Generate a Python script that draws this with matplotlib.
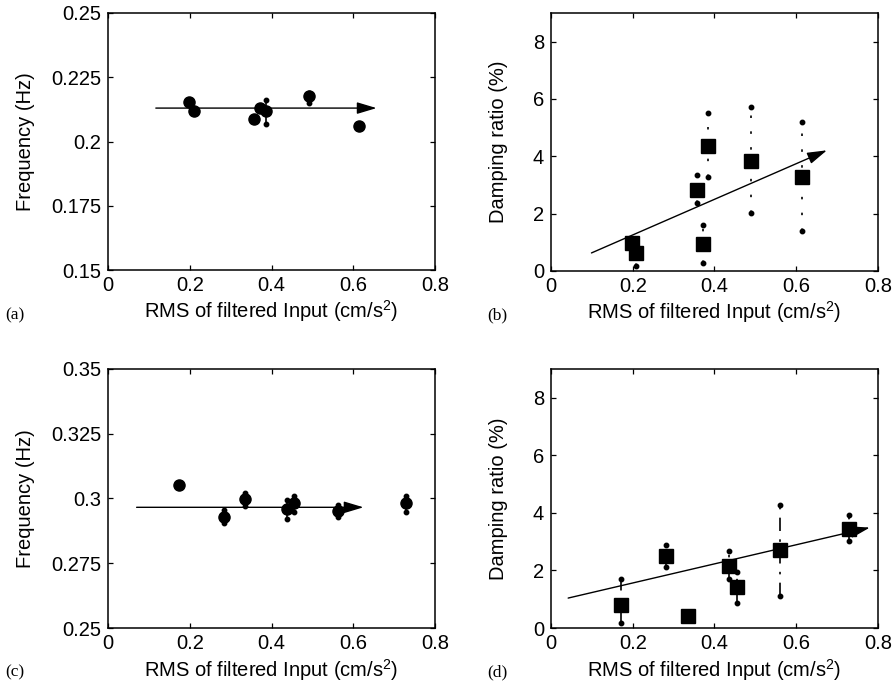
import numpy as np
import matplotlib
matplotlib.use('Agg')
import matplotlib.pyplot as plt

plt.rcParams['font.family'] = ['Liberation Sans', 'DejaVu Sans']
plt.rcParams['mathtext.fontset'] = 'custom'
plt.rcParams['mathtext.rm'] = 'Liberation Sans'
plt.rcParams['mathtext.it'] = 'Liberation Sans:italic'

# (a) frequency, mode 1
x_a = [0.197, 0.211, 0.356, 0.372, 0.386, 0.491, 0.614]
f_a = [0.2152, 0.2120, 0.2088, 0.2130, 0.2120, 0.2178, 0.2061]
lo_a = [0.2148, 0.2116, 0.2078, 0.2126, 0.2069, 0.2150, 0.2052]
hi_a = [0.2162, 0.2124, 0.2094, 0.2134, 0.2162, 0.2188, 0.2068]
arrow_a = [(0.117, 0.213), (0.657, 0.213)]

# (b) damping, mode 1
x_b = [0.197, 0.209, 0.356, 0.372, 0.383, 0.489, 0.613]
d_b = [0.99, 0.64, 2.84, 0.94, 4.37, 3.85, 3.29]
lo_b = [0.90, 0.19, 2.37, 0.29, 3.27, 2.01, 1.40]
hi_b = [1.10, 1.10, 3.34, 1.60, 5.50, 5.71, 5.20]
arrow_b = [(0.099, 0.63), (0.675, 4.21)]

# (c) frequency, mode 2
x_c = [0.173, 0.284, 0.334, 0.437, 0.456, 0.563, 0.730]
f_c = [0.3051, 0.2930, 0.2998, 0.2960, 0.2981, 0.2952, 0.2981]
lo_c = [0.3049, 0.2906, 0.2972, 0.2921, 0.2949, 0.2930, 0.2949]
hi_c = [0.3053, 0.2956, 0.3022, 0.2994, 0.3011, 0.2975, 0.3011]
arrow_c = [(0.070, 0.2966), (0.625, 0.2966)]

# (d) damping, mode 2
x_d = [0.171, 0.282, 0.336, 0.435, 0.454, 0.561, 0.728]
d_d = [0.80, 2.50, 0.43, 2.17, 1.41, 2.71, 3.43]
lo_d = [0.17, 2.11, 0.43, 1.69, 0.87, 1.12, 3.01]
hi_d = [1.72, 2.90, 0.43, 2.69, 1.96, 4.28, 3.91]
arrow_d = [(0.042, 1.04), (0.780, 3.49)]

xticks = [0, 0.2, 0.4, 0.6, 0.8]
xlabels = ['0', '0.2', '0.4', '0.6', '0.8']
fticks_a = [0.15, 0.175, 0.2, 0.225, 0.25]
fticks_c = [0.25, 0.275, 0.3, 0.325, 0.35]
dticks = [0, 2, 4, 6, 8]

FS = 14.5
fig = plt.figure(figsize=(8.95, 6.9), dpi=100)
W, H = 895, 690

def make_axes(l, t, r, b):
    return fig.add_axes([l / W, 1 - b / H, (r - l) / W, (b - t) / H])

def style(ax):
    ax.tick_params(direction='in', top=True, right=True, length=3.5,
                   width=0.9, labelsize=FS)
    ax.tick_params(axis='x', pad=4.5)
    ax.tick_params(axis='y', pad=5)
    for s in ax.spines.values():
        s.set_linewidth(1.1)
    ax.set_xlim(0, 0.8)
    ax.set_xticks(xticks)
    ax.set_xticklabels(xlabels)
    ax.set_xlabel('RMS of filtered Input (cm/s$^2$)', fontsize=FS, va='baseline')
    ax.xaxis.set_label_coords(0.5, -0.187)

def draw(ax, x, y, lo, hi, marker, ms, ls):
    for xi, l, h in zip(x, lo, hi):
        ax.plot([xi, xi], [l, h], color='k', lw=1.2, linestyle=ls, zorder=2)
    ax.plot(x, lo, 'o', color='k', ms=3.2, zorder=3)
    ax.plot(x, hi, 'o', color='k', ms=3.2, zorder=3)
    ax.plot(x, y, marker, color='k', ms=ms, zorder=4)

def arrow(ax, pts):
    ax.annotate('', xy=pts[1], xytext=pts[0],
                arrowprops=dict(arrowstyle='-|>,head_length=0.6,head_width=0.18',
                                mutation_scale=20, lw=1.0, color='k',
                                shrinkA=0, shrinkB=0), zorder=5)

axa = make_axes(108, 13, 435, 270)
axb = make_axes(551, 13, 878, 271)
axc = make_axes(108, 369, 435, 628)
axd = make_axes(551, 369, 878, 628)

for ax in (axa, axb, axc, axd):
    style(ax)

draw(axa, x_a, f_a, lo_a, hi_a, 'o', 8.0, '-')
arrow(axa, arrow_a)
axa.set_ylim(0.15, 0.25)
axa.set_yticks(fticks_a)
axa.set_yticklabels(['0.15', '0.175', '0.2', '0.225', '0.25'])
axa.set_ylabel('Frequency (Hz)', fontsize=FS, va='center')
axa.yaxis.set_label_coords(-0.253, 0.5)

draw(axb, x_b, d_b, lo_b, hi_b, 's', 10.0, (0, (1.5, 8)))
arrow(axb, arrow_b)
axb.set_ylim(0, 9)
axb.set_yticks(dticks)
axb.set_ylabel('Damping ratio (%)', fontsize=FS, va='center')
axb.yaxis.set_label_coords(-0.162, 0.5)

draw(axc, x_c, f_c, lo_c, hi_c, 'o', 8.0, '-')
arrow(axc, arrow_c)
axc.set_ylim(0.25, 0.35)
axc.set_yticks(fticks_c)
axc.set_yticklabels(['0.25', '0.275', '0.3', '0.325', '0.35'])
axc.set_ylabel('Frequency (Hz)', fontsize=FS, va='center')
axc.yaxis.set_label_coords(-0.253, 0.5)

draw(axd, x_d, d_d, lo_d, hi_d, 's', 10.0, (0, (8, 5, 1.5, 5)))
arrow(axd, arrow_d)
axd.set_ylim(0, 9)
axd.set_yticks(dticks)
axd.set_ylabel('Damping ratio (%)', fontsize=FS, va='center')
axd.yaxis.set_label_coords(-0.162, 0.5)

for lab, px, py in [('(a)', 5, 319), ('(b)', 487, 319), ('(c)', 5, 676), ('(d)', 487, 676)]:
    fig.text(px / W, 1 - py / H, lab, fontsize=12.5, va='baseline', ha='left',
             family=['Liberation Serif', 'DejaVu Serif'])

fig.savefig('out.png', dpi=100)
